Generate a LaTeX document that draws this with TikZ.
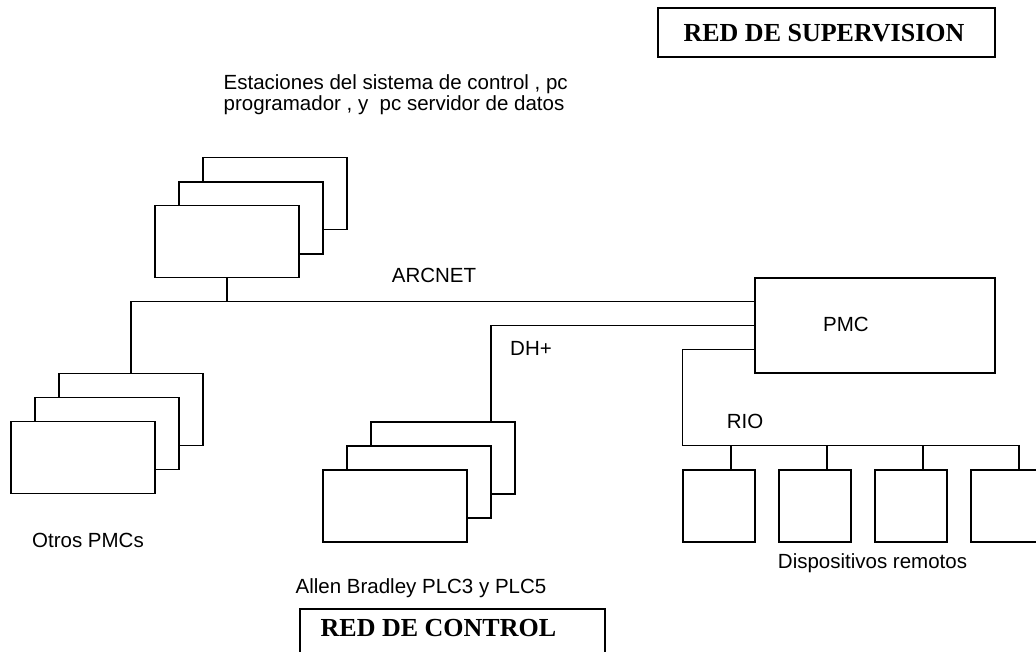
\documentclass[tikz,border=0pt]{standalone}
\usepackage{fontspec}
\setmainfont{Liberation Serif}
\newfontfamily\sans{Liberation Sans}
\begin{document}
\begin{tikzpicture}[x=1pt,y=-1pt,
  line width=1.3pt,
  box/.style={draw=black,fill=white,rectangle,inner sep=0pt,minimum width=144pt,minimum height=72pt},
  dev/.style={draw=black,fill=white,rectangle,inner sep=0pt,minimum width=72pt,minimum height=72pt},
  lbl/.style={font=\sans\fontsize{20.5}{22}\selectfont,inner sep=0pt},
  title/.style={font=\bfseries\fontsize{26}{28}\selectfont,inner sep=0pt}]
\useasboundingbox (0,0) rectangle (1036,652);
\clip (0,0) rectangle (1036,652);
% title boxes
\node[draw=black,rectangle,minimum width=337pt,minimum height=49pt,inner sep=0pt] (supbox) at (826.5,32.5) {};
\node[title] (suptxt) at (824,33) {RED DE SUPERVISION};
\draw (300,680) -- (300,609) -- (605,609) -- (605,680);
\node[title,anchor=west] (ctltxt) at (320,628) {RED DE CONTROL};
% station stack
\node[box] (st3) at (275,193.5) {};
\node[box] (st2) at (251,218) {};
\node[box] (st1) at (227,241.5) {};
% otros PMCs stack
\node[box] (o3) at (131,409.5) {};
\node[box] (o2) at (107,433.5) {};
\node[box] (o1) at (83,457.5) {};
% PLC stack
\node[box] (p3) at (443,458) {};
\node[box] (p2) at (419,482) {};
\node[box] (p1) at (395,506) {};
% PMC
\node[draw=black,rectangle,inner sep=0pt,minimum width=240pt,minimum height=95pt] (pmc) at (875,325.5) {};
\node[lbl] (pmctxt) at (846,324) {PMC};
% devices
\node[dev] (d1) at (719,506) {};
\node[dev] (d2) at (815,506) {};
\node[dev] (d3) at (911,506) {};
\node[dev] (d4) at (1007,506) {};
% connection points on PMC
\coordinate (pa) at ([yshift=-24pt]pmc.north west);
\coordinate (pb) at ([yshift=-48pt]pmc.north west);
\coordinate (pc) at ([yshift=-72pt]pmc.north west);
\coordinate (busL) at ([yshift=24pt]d1.north west);
\coordinate (busR) at ([yshift=24pt,xshift=12pt]d4.north);
% ARCNET
\draw (o3.north) |- (pa);
\draw (st1.south) -- (st1.south |- pa);
% DH+
\draw (pb) -| ([xshift=48pt]p3.north);
% RIO
\draw (pc) -| (busL) -- (busR) -- ([xshift=12pt]d4.north);
\draw ([xshift=12pt]d1.north) -- ([xshift=12pt]d1.north |- busL);
\draw ([xshift=12pt]d2.north) -- ([xshift=12pt]d2.north |- busL);
\draw ([xshift=12pt]d3.north) -- ([xshift=12pt]d3.north |- busL);
% labels
\node[lbl,anchor=west,align=left,font=\sans\fontsize{20.5}{21}\selectfont] (sttxt) at (223,95) {Estaciones del sistema de control , pc\\programador , y\ \ pc servidor de datos};
\node[lbl] (arctxt) at (434,275) {ARCNET};
\node[lbl] (dhtxt) at (531,348) {DH+};
\node[lbl] (riotxt) at (745,421) {RIO};
\node[lbl] (otxt) at (88,540) {Otros PMCs};
\node[lbl] (dtxt) at (872.5,563) {Dispositivos remotos};
\node[lbl,anchor=west] (ptxt) at (295,588) {Allen Bradley PLC3 y PLC5};
\end{tikzpicture}
\end{document}
